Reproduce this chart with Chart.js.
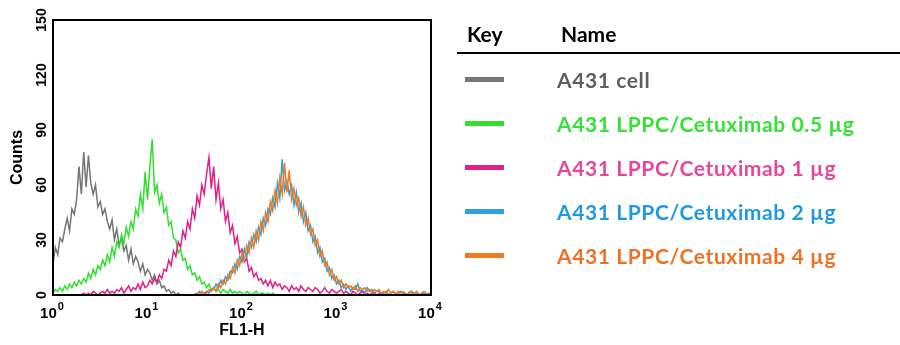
<!DOCTYPE html>
<html>
<head>
<meta charset="utf-8">
<script src="https://cdn.jsdelivr.net/npm/chart.js@4/dist/chart.umd.min.js"></script>
<style>
  body { margin: 0; background: #fff; }
  #wrap { position: relative; width: 900px; height: 345px; overflow: hidden; }
  #plot { position: absolute; left: 0; top: 0; width: 450px; height: 345px; }
  #legend { position: absolute; left: 0; top: 0; width: 900px; height: 345px;
            font-family: Lato, "Open Sans", sans-serif; font-weight: bold; pointer-events: none; }
  #legend .hdr { position: absolute; top: 21px; font-size: 21px; line-height: 25px; color: #000; }
  #legend .rule { position: absolute; left: 457px; top: 52px; width: 443px; height: 2px; background: #000; }
  #legend .swatch { position: absolute; left: 465px; width: 39px; height: 5px; }
  #legend .label { position: absolute; left: 557px; font-size: 21px; line-height: 24px;
                   letter-spacing: 0.6px; white-space: nowrap; }
</style>
</head>
<body>
<div id="wrap">
  <div id="plot"><canvas id="histo" width="450" height="345"></canvas></div>
  <div id="legend">
    <div class="hdr" style="left:467px">Key</div>
    <div class="hdr" style="left:561px">Name</div>
    <div class="rule"></div>
  </div>
</div>
<script>
// axis ticks
const xTicks = [1, 10, 100, 1000, 10000];
const xTickPowers = ['0', '1', '2', '3', '4'];
const yTicks = [0, 30, 60, 90, 120, 150];

// series
const seriesNames = ['A431 cell', 'A431 LPPC/Cetuximab 0.5 \u00b5g', 'A431 LPPC/Cetuximab 1 \u00b5g',
                     'A431 LPPC/Cetuximab 2 \u00b5g', 'A431 LPPC/Cetuximab 4 \u00b5g'];
const lineColors = ['#767676', '#2fe02f', '#e0208e', '#2ea2dc', '#f07a22'];
const textColors = ['#5f5f5f', '#36e036', '#e8459c', '#1f9ae2', '#ee7124'];

// FL1-H log channels, 40 per decade; each series starts at 10^start
const channelsPerDecade = 40;

const cellStart = 0;
const cellCounts = [17, 26, 22, 31, 29, 36, 42, 35, 47, 44, 52, 70, 55, 78, 59, 76, 61, 55, 60, 48,
  51, 44, 47, 40, 36, 41, 30, 36, 27, 31, 24, 27, 19, 25, 17, 21, 18, 13, 17, 11,
  14, 12, 8, 11, 6, 8, 4, 5, 2, 3, 1, 2, 0, 1, 0];

const half1Start = 0;
const half1Counts = [1, 3, 2, 4, 2, 5, 3, 6, 4, 7, 5, 8,
  6, 9, 7, 12, 9, 14, 11, 16,
  14, 19, 16, 22, 18, 26, 21, 29,
  26, 33, 28, 37, 32, 40, 36, 47,
  43, 55, 47, 67, 52, 70, 85, 56,
  60, 50, 55, 45, 48, 38, 40, 31,
  30, 23, 25, 19, 20, 14, 16, 11,
  12, 8, 10, 6, 7, 4, 6, 3,
  4, 2, 3, 1, 3, 2, 1, 3, 1, 2, 1, 2,
  1, 0, 2, 1, 0, 1, 2, 0, 1, 1, 0, 1, 0, 1, 0, 0, 0];

const oneStart = 0.3;
const oneCounts = [0, 1, 0, 1, 0, 2, 1, 0, 1, 2, 1, 3, 1, 2, 1, 3,
  2, 4, 1, 3, 5, 2, 4, 3, 6, 3, 7, 4,
  5, 8, 6, 9, 7, 11, 9, 14,
  13, 19, 16, 24, 21, 29, 26, 35,
  31, 40, 36, 47, 42, 54, 49, 60,
  55, 66, 75, 58, 70, 52, 61, 47,
  52, 40, 45, 34, 38, 28, 32, 23,
  25, 18, 20, 13, 15, 10, 12, 8,
  9, 6, 8, 5, 8, 4, 7, 5,
  6, 3, 5, 4, 2, 5, 3, 4, 2, 5, 3, 2, 4, 3, 2, 4,
  3, 1, 2, 4, 2, 1, 3, 2, 1, 2, 3, 1, 2, 1, 0, 2,
  1, 0, 1, 2, 0, 1, 0, 1, 1, 0, 1, 0, 0];

const twoStart = 1.5;
const twoCounts = [1, 0, 2, 0, 1, 2, 1, 3,
  3, 6, 4, 8, 6, 10, 8, 13,
  12, 17, 14, 21, 18, 25, 21, 29,
  26, 33, 29, 37, 33, 42, 38, 47,
  44, 53, 48, 61, 53, 74, 57, 62,
  55, 60, 49, 56, 45, 50, 40, 45,
  35, 38, 29, 32, 23, 26, 18, 20,
  13, 15, 9, 11, 6, 8, 4, 6,
  3, 5, 2, 4, 3, 6, 2, 3, 1, 4, 2, 3, 1, 2, 2, 1,
  1, 2, 0, 1, 2, 1, 0, 2, 1, 1, 0, 1, 2, 0, 1, 0, 1, 1, 0, 1, 0];

const fourStart = 1.5;
const fourCounts = [0, 1, 0, 2, 1, 1, 3, 2,
  4, 2, 6, 4, 8, 6, 11, 9,
  15, 12, 19, 16, 23, 19, 27, 23,
  31, 26, 35, 30, 40, 35, 45, 40,
  51, 46, 57, 50, 64, 55, 72, 56,
  68, 52, 58, 49, 53, 43, 48, 38,
  42, 33, 36, 27, 30, 21, 24, 16,
  18, 11, 14, 8, 10, 6, 8, 4,
  6, 4, 5, 3, 5, 2, 4, 3, 4, 2, 3, 1, 3, 2, 3, 1,
  2, 1, 3, 1, 2, 0, 2, 1, 2, 1, 0, 2, 1, 1, 2, 0, 1, 2, 1, 0, 1];

const seriesStarts = [cellStart, half1Start, oneStart, twoStart, fourStart];
const seriesCounts = [cellCounts, half1Counts, oneCounts, twoCounts, fourCounts];

function toPoints(start, counts) {
  return counts.map((c, i) => ({ x: Math.pow(10, start + i / channelsPerDecade), y: c }));
}

const datasets = seriesCounts.map((counts, i) => ({
  label: seriesNames[i],
  data: toPoints(seriesStarts[i], counts),
  borderColor: lineColors[i],
  borderWidth: 1.5,
  pointRadius: 0,
  fill: false,
  tension: 0,
  order: seriesCounts.length - i   // later series drawn on top
}));

// legend rows
const legend = document.getElementById('legend');
seriesNames.forEach((name, i) => {
  const cy = 80 + 44 * i;
  const sw = document.createElement('div');
  sw.className = 'swatch';
  sw.style.top = (cy - 3) + 'px';
  sw.style.background = lineColors[i];
  legend.appendChild(sw);
  const lb = document.createElement('div');
  lb.className = 'label';
  lb.style.top = (cy - 12) + 'px';
  lb.style.color = textColors[i];
  lb.textContent = name;
  legend.appendChild(lb);
});

// frame around the plot area and the tick labels (10^n and rotated counts)
const frameAndTicks = {
  id: 'frameAndTicks',
  afterDatasetsDraw(chart) {
    const { ctx, chartArea: a, scales: { x, y } } = chart;
    ctx.save();
    ctx.strokeStyle = '#000';
    ctx.lineWidth = 2;
    ctx.strokeRect(a.left, a.top, a.right - a.left, a.bottom - a.top);

    ctx.fillStyle = '#000';
    ctx.textBaseline = 'alphabetic';
    xTicks.forEach((v, i) => {
      const px = x.getPixelForValue(v);
      ctx.font = 'bold 15px "Liberation Sans", Arial, sans-serif';
      const bw = ctx.measureText('10').width;
      ctx.font = 'bold 11px "Liberation Sans", Arial, sans-serif';
      const pw = ctx.measureText(xTickPowers[i]).width;
      const left = px - (bw + pw + 1) / 2 - 1;
      ctx.font = 'bold 15px "Liberation Sans", Arial, sans-serif';
      ctx.textAlign = 'left';
      ctx.fillText('10', left, 318);
      ctx.font = 'bold 11px "Liberation Sans", Arial, sans-serif';
      ctx.fillText(xTickPowers[i], left + bw + 1, 310);
    });

    ctx.font = 'bold 14px "Liberation Sans", Arial, sans-serif';
    ctx.textAlign = 'center';
    ctx.textBaseline = 'middle';
    yTicks.forEach(v => {
      const py = y.getPixelForValue(v);
      ctx.save();
      ctx.translate(42, py);
      ctx.rotate(-Math.PI / 2);
      ctx.fillText(String(v), 0, 0);
      ctx.restore();
    });
    ctx.restore();
  }
};

new Chart(document.getElementById('histo'), {
  type: 'line',
  data: { datasets },
  options: {
    responsive: false,
    animation: false,
    events: [],
    layout: { padding: { left: 0, top: 20, right: 19, bottom: 0 } },
    plugins: { legend: { display: false }, tooltip: { enabled: false } },
    scales: {
      x: {
        type: 'logarithmic',
        min: xTicks[0],
        max: xTicks[xTicks.length - 1],
        grid: { display: false, drawTicks: false },
        border: { display: false },
        ticks: { display: false },
        title: {
          display: true, text: 'FL1-H', color: '#000',
          font: { family: '"Liberation Sans", Arial, sans-serif', size: 16, weight: 'bold' },
          padding: { top: 0, bottom: 5 }
        },
        afterFit(scale) { scale.height = 50; }
      },
      y: {
        min: yTicks[0],
        max: yTicks[yTicks.length - 1],
        grid: { display: false, drawTicks: false },
        border: { display: false },
        ticks: { display: false, stepSize: 30 },
        title: {
          display: true, text: 'Counts', color: '#000',
          font: { family: '"Liberation Sans", Arial, sans-serif', size: 16, weight: 'bold' },
          padding: { top: 8, bottom: 0 }
        },
        afterFit(scale) { scale.width = 53; }
      }
    }
  },
  plugins: [frameAndTicks]
});
</script>
</body>
</html>
